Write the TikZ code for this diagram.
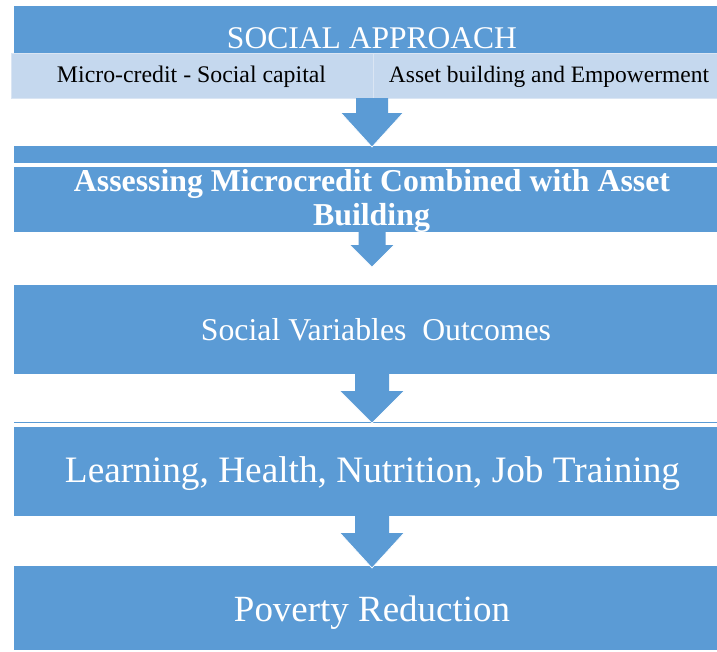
\documentclass[tikz,border=0pt]{standalone}
\usepackage{fontspec}
\setmainfont{Liberation Serif}
\usetikzlibrary{calc}
\definecolor{mblue}{HTML}{5B9BD5}
\definecolor{lblue}{HTML}{C5D8EE}
\definecolor{lborder}{HTML}{DAE5F3}
\newcommand\myblockarrow[5]{%
  \fill[mblue] ($(#1)+(-#4,0)$) -- ($(#1)+(#4,0)$) -- ($(#1)+(#4,#3)$) -- ($(#1)+(#5,#3)$)
    -- (#2) -- ($(#1)+(-#5,#3)$) -- ($(#1)+(-#4,#3)$) -- cycle;
  \draw[white,line width=0.7pt,line join=miter] ($(#1)+(#5,#3)$) -- (#2) -- ($(#1)+(-#5,#3)$);}
\begin{document}
\begin{tikzpicture}[x=1pt,y=-1pt,
  bluebox/.style={fill=mblue,draw=none,inner sep=0pt,anchor=north west,minimum width=703pt},
  lightbox/.style={fill=lblue,draw=lborder,line width=1.2pt,inner sep=0pt,anchor=north west,minimum height=45pt},
  wtext/.style={text=white,inner sep=0pt,anchor=base},
  ktext/.style={text=black,inner sep=0pt,anchor=base}]
\useasboundingbox (0,0) rectangle (717,651);
\fill[white] (0,0) rectangle (717,651);
% boxes
\node[bluebox,minimum height=49pt] (b1) at (14,6) {};
\node[lightbox,minimum width=362pt] (l1) at (11,53) {};
\node[lightbox,minimum width=344pt] (l2) at (373,53) {};
\node[bluebox,minimum height=17pt] (b2a) at (14,146) {};
\node[bluebox,minimum height=65pt] (b2) at (14,167) {};
\node[bluebox,minimum height=89pt] (b3) at (14,285) {};
\node[bluebox,minimum height=1.7pt] (b4a) at (14,421.3) {};
\node[bluebox,minimum height=89pt] (b4) at (14,427) {};
\node[bluebox,minimum height=84pt] (b5) at (14,566) {};
% texts
\node[wtext] (t1) at (372,48) {\resizebox{290pt}{!}{SOCIAL APPROACH}};
\node[ktext] (t1a) at (191.5,82) {\resizebox{269pt}{!}{Micro-credit - Social capital}};
\node[ktext] (t1b) at (549,82) {\resizebox{320pt}{!}{Asset building and Empowerment}};
\node[wtext] (t2a) at (372,191.7) {\resizebox{596pt}{!}{\bfseries Assessing Microcredit Combined with Asset}};
\node[wtext] (t2b) at (371.5,225) {\resizebox{117pt}{!}{\bfseries Building}};
\node[wtext] (t3) at (376,340) {\resizebox{350pt}{!}{Social Variables~ Outcomes}};
\node[wtext] (t4) at (372.5,482.7) {\resizebox{615pt}{!}{Learning, Health, Nutrition, Job Training}};
\node[wtext] (t5) at (372,621) {\resizebox{276pt}{!}{Poverty Reduction}};
% arrows
\coordinate (a1s) at (372,98);  \coordinate (a1t) at (372,147);
\coordinate (a2s) at (372,232); \coordinate (a2t) at (372,267);
\coordinate (a3s) at (372,374); \coordinate (a3t) at (372,423);
\coordinate (a4s) at (372,516); \coordinate (a4t) at (372,568);
\myblockarrow{a1s}{a1t}{15}{16}{31}
\myblockarrow{a2s}{a2t}{13}{13.5}{22}
\myblockarrow{a3s}{a3t}{17}{17}{32}
\myblockarrow{a4s}{a4t}{17}{17}{32}
\end{tikzpicture}
\end{document}
